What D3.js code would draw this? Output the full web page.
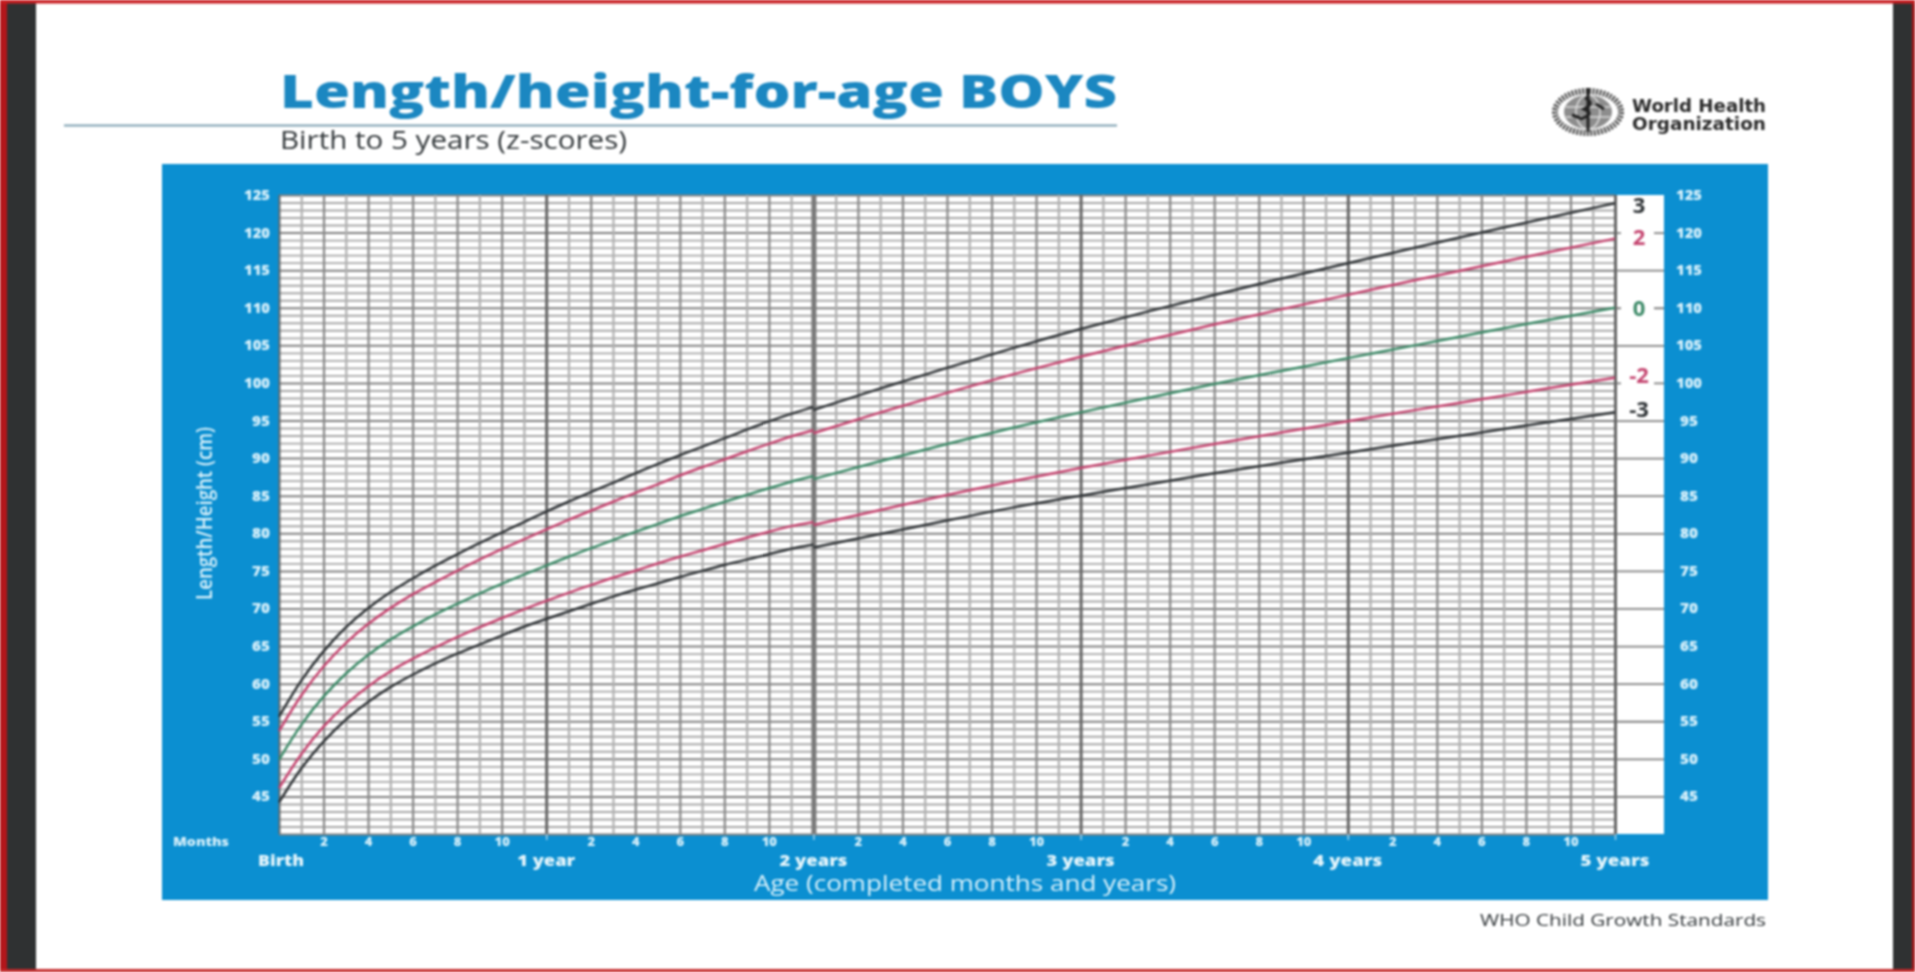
<!DOCTYPE html>
<html><head><meta charset="utf-8">
<script src="https://cdn.jsdelivr.net/npm/d3@7"></script>
<style>
html,body{margin:0;padding:0;background:#fff;overflow:hidden}
svg{display:block;filter:blur(0.8px)}
text{font-family:"Open Sans",sans-serif}
.num text{font-family:"Open Sans",sans-serif;font-weight:800}
</style></head><body><div id="chart"></div>
<script>
// Birth to 24 months: recumbent length; 24 to 60 months: standing height (cm)
const monthsLength = d3.range(0, 25);
const monthsHeight = [24, 27, 30, 33, 36, 39, 42, 45, 48, 51, 54, 57, 60];

const plus3Length  = [55.6,60.6,64.4,67.6,70.1,72.2,74.0,75.7,77.2,78.7,80.1,81.5,82.9,84.2,85.5,86.7,88.0,89.2,90.4,91.5,92.6,93.8,94.9,95.9,96.8];
const plus3Height  = [96.4,99.3,102.0,104.7,107.2,109.5,111.7,113.9,115.9,118.0,120.0,122.0,123.9];
const plus2Length  = [53.7,58.6,62.4,65.5,68.0,70.1,71.9,73.5,75.0,76.5,77.9,79.2,80.5,81.8,83.0,84.2,85.4,86.5,87.7,88.8,89.8,90.9,91.9,92.9,93.7];
const plus2Height  = [93.3,96.1,98.7,101.2,103.5,105.7,107.8,109.8,111.7,113.7,115.5,117.4,119.2];
const medianLength = [49.9,54.7,58.4,61.4,63.9,65.9,67.6,69.2,70.6,72.0,73.3,74.5,75.7,76.9,78.0,79.1,80.2,81.2,82.3,83.2,84.2,85.1,86.0,86.9,87.6];
const medianHeight = [87.2,89.6,91.9,94.1,96.1,98.0,99.9,101.6,103.3,105.0,106.7,108.4,110.0];
const minus2Length = [46.1,50.8,54.4,57.3,59.7,61.7,63.3,64.8,66.2,67.5,68.7,69.9,71.0,72.1,73.1,74.1,75.0,76.0,76.9,77.7,78.6,79.4,80.2,81.0,81.5];
const minus2Height = [81.1,83.1,85.1,87.0,88.7,90.3,91.9,93.4,94.9,96.4,97.8,99.3,100.7];
const minus3Length = [44.2,48.9,52.4,55.3,57.6,59.6,61.2,62.7,64.0,65.2,66.4,67.6,68.6,69.6,70.6,71.6,72.5,73.3,74.2,75.0,75.8,76.5,77.2,78.0,78.5];
const minus3Height = [78.1,79.9,81.7,83.5,85.0,86.5,88.0,89.4,90.7,92.1,93.4,94.8,96.1];

const seriesNames = ["3", "2", "0", "-2", "-3"];
const lengthSeries = [plus3Length, plus2Length, medianLength, minus2Length, minus3Length];
const heightSeries = [plus3Height, plus2Height, medianHeight, minus2Height, minus3Height];
const seriesColors = ["#2f3336", "#c4446f", "#3d8a68", "#c4446f", "#2f3336"];
const zLabelCm     = [123.6, 119.4, 110, 101, 96.5];

const yTicks = d3.range(45, 126, 5);
const yGrid = d3.range(40, 126, 1);
const monthTicks = d3.range(0, 61);
const yearLabels = ["Birth", "1 year", "2 years", "3 years", "4 years", "5 years"];
const yearLabelWidths = [46, 58, 68, 68, 69, 69];
const stripGaps = [120, 110, 100];

const W = 1915, H = 972;
const L = 279, R = 1615, T = 195, B = 834, stripR = 1664;
const x = d3.scaleLinear().domain([0, 60]).range([L, R]);
const y = d3.scaleLinear().domain([40, 125]).range([B, T]);

const svg = d3.select("#chart").append("svg").attr("width", W).attr("height", H);
const fit = (sel, w) => sel.attr("textLength", w).attr("lengthAdjust", "spacingAndGlyphs");

// frame
svg.append("rect").attr("width", W).attr("height", H).attr("fill", "#fff");
svg.append("rect").attr("x", 0).attr("y", 0).attr("width", 36).attr("height", H).attr("fill", "#2f3132");
svg.append("rect").attr("x", 1893).attr("y", 0).attr("width", 22).attr("height", H).attr("fill", "#2f3132");
svg.append("rect").attr("x", 0).attr("y", 0).attr("width", 7).attr("height", H).attr("fill", "#b3161b");
svg.append("rect").attr("x", 1912).attr("y", 0).attr("width", 3).attr("height", H).attr("fill", "#a5181c");
svg.append("rect").attr("x", 0).attr("y", 0).attr("width", W).attr("height", 3.5).attr("fill", "#c81e22");
svg.append("rect").attr("x", 0).attr("y", 969).attr("width", W).attr("height", 3).attr("fill", "#c4282a");

// heading
fit(svg.append("text").attr("x", 280).attr("y", 108).attr("font-size", 46).attr("font-weight", 800)
  .attr("fill", "#1b87c1").text("Length/height-for-age BOYS"), 837);
svg.append("rect").attr("x", 64).attr("y", 124.5).attr("width", 1053).attr("height", 2).attr("fill", "#7d9fb0");
fit(svg.append("text").attr("x", 280).attr("y", 149).attr("font-size", 25).attr("fill", "#33383b")
  .text("Birth to 5 years (z-scores)"), 347);

// emblem
const emblem = svg.append("g").attr("transform", "translate(1588,112)");
emblem.append("ellipse").attr("rx", 33).attr("ry", 21).attr("fill", "none").attr("stroke", "#4a4a4a")
  .attr("stroke-width", 6).attr("stroke-dasharray", "2 1.5");
emblem.append("ellipse").attr("rx", 24).attr("ry", 17).attr("fill", "#8d8d8d");
emblem.append("ellipse").attr("rx", 12).attr("ry", 17).attr("fill", "none").attr("stroke", "#dcdcdc").attr("stroke-width", 1.5);
emblem.append("path").attr("d", "M-22 -5 L22 -5 M-22 5 L22 5").attr("stroke", "#dcdcdc").attr("stroke-width", 1.5);
emblem.append("path").attr("d", "M0 -24 L0 20 M-8 7 Q8 2 -4 -3 Q8 -9 -3 -14 M-16 3 L-8 6 M8 -8 L16 -3")
  .attr("fill", "none").attr("stroke", "#222").attr("stroke-width", 3);
fit(svg.append("text").attr("x", 1632).attr("y", 112).attr("font-size", 18).attr("font-weight", 700)
  .attr("fill", "#2b2b2b").style("font-family", "DejaVu Sans").text("World Health"), 134);
fit(svg.append("text").attr("x", 1632).attr("y", 130).attr("font-size", 18).attr("font-weight", 700)
  .attr("fill", "#2b2b2b").style("font-family", "DejaVu Sans").text("Organization"), 134);

// panel
svg.append("rect").attr("x", 162).attr("y", 164).attr("width", 1606).attr("height", 736).attr("fill", "#0b8fd1");
svg.append("rect").attr("x", L).attr("y", T).attr("width", stripR - L).attr("height", B - T).attr("fill", "#fff");

// horizontal grid
svg.append("g").attr("transform", `translate(${L},0)`)
  .call(d3.axisRight(y).tickValues(yGrid).tickSize(R - L).tickFormat(""))
  .call(g => g.select(".domain").remove())
  .selectAll("line")
  .attr("stroke", d => d % 5 === 0 ? "#808080" : "#a8a8a8")
  .attr("stroke-width", d => d % 5 === 0 ? 2 : 1.9);

// five-centimetre lines across the white strip
svg.append("g").attr("transform", `translate(${R},0)`)
  .call(d3.axisRight(y).tickValues(yTicks.filter(v => v < 125)).tickSize(stripR - R).tickFormat(""))
  .call(g => g.select(".domain").remove())
  .selectAll("line").attr("stroke", "#808080").attr("stroke-width", 1.8);
svg.append("g").selectAll("rect").data(stripGaps).join("rect")
  .attr("x", 1621).attr("width", 33).attr("y", d => y(d) - 2.5).attr("height", 5).attr("fill", "#fff");

// vertical grid
svg.append("g").attr("transform", `translate(0,${T})`)
  .call(d3.axisBottom(x).tickValues(monthTicks).tickSize(B - T).tickFormat(""))
  .call(g => g.select(".domain").remove())
  .selectAll("line")
  .attr("stroke", d => d === 24 ? "#7a7a7a" : d % 12 === 0 ? "#666" : d % 2 === 0 ? "#888" : "#b0b0b0")
  .attr("stroke-width", d => d === 24 ? 5 : d === 0 ? 2 : d % 12 === 0 ? 3 : 2.2);

// curves
const line = d3.line().curve(d3.curveBasis);
seriesNames.forEach((name, i) => {
  [[monthsLength, lengthSeries[i]], [monthsHeight, heightSeries[i]]].forEach(([ms, vs]) => {
    svg.append("path")
      .attr("d", line(ms.map((m, k) => [x(m), y(vs[k])])))
      .attr("fill", "none").attr("stroke", seriesColors[i]).attr("stroke-width", 2.5);
  });
  svg.append("text").attr("x", 1639).attr("y", y(zLabelCm[i])).attr("dy", "0.36em")
    .attr("text-anchor", "middle").attr("font-size", 22).attr("font-weight", 700)
    .attr("fill", seriesColors[i]).text(name);
});

// y tick labels
const lightText = "#d9f1fb";
const tickWidth = d => d >= 100 ? 26 : 18;
svg.append("g").attr("class", "num").attr("transform", `translate(${L},0)`)
  .call(d3.axisLeft(y).tickValues(yTicks).tickSize(0).tickPadding(9))
  .call(g => g.select(".domain").remove())
  .selectAll("text").attr("fill", lightText).style("font-size", "14px")
  .attr("textLength", tickWidth).attr("lengthAdjust", "spacingAndGlyphs");
svg.append("g").attr("class", "num").attr("transform", `translate(1689,0)`)
  .call(d3.axisRight(y).tickValues(yTicks).tickSize(0).tickPadding(0))
  .call(g => g.select(".domain").remove())
  .selectAll("text").attr("fill", lightText).attr("text-anchor", "middle").style("font-size", "14px")
  .attr("textLength", tickWidth).attr("lengthAdjust", "spacingAndGlyphs");

// month tick labels
svg.append("g").attr("class", "num").attr("transform", `translate(0,${B})`)
  .call(d3.axisBottom(x).tickValues(d3.range(0, 61).filter(m => m % 2 === 0 && m % 12 !== 0))
    .tickSize(0).tickPadding(0).tickFormat(m => m % 12))
  .call(g => g.select(".domain").remove())
  .selectAll("text").attr("fill", lightText).attr("y", 3).attr("dy", "0.71em").style("font-size", "13px");
svg.append("g").attr("transform", `translate(0,${B})`)
  .call(d3.axisBottom(x).tickValues(d3.range(12, 61, 12)).tickSize(6).tickFormat(""))
  .call(g => g.select(".domain").remove())
  .selectAll("line").attr("stroke", "#9fd3ee").attr("stroke-width", 1.5);
fit(svg.append("text").attr("x", 173).attr("y", 846).attr("font-size", 13).attr("font-weight", 800)
  .attr("fill", lightText).text("Months"), 56);

// year labels
svg.append("g").selectAll("text").data(yearLabels).join("text")
  .attr("x", (d, i) => x(i * 12) + (i === 0 ? 2 : 0)).attr("y", 866).attr("text-anchor", "middle")
  .attr("font-size", 16).attr("font-weight", 800).attr("fill", "#e6f6fc").text(d => d)
  .attr("textLength", (d, i) => yearLabelWidths[i]).attr("lengthAdjust", "spacingAndGlyphs");

// axis titles
fit(svg.append("text").attr("x", 754).attr("y", 891).attr("font-size", 21)
  .attr("fill", lightText).text("Age (completed months and years)"), 422);
fit(svg.append("text").attr("transform", "translate(212,600) rotate(-90)")
  .attr("font-size", 21).attr("font-weight", 600).attr("fill", lightText).text("Length/Height (cm)"), 173);

// footer
fit(svg.append("text").attr("x", 1480).attr("y", 926).attr("font-size", 17).attr("fill", "#33383b")
  .text("WHO Child Growth Standards"), 286);
</script></body></html>
